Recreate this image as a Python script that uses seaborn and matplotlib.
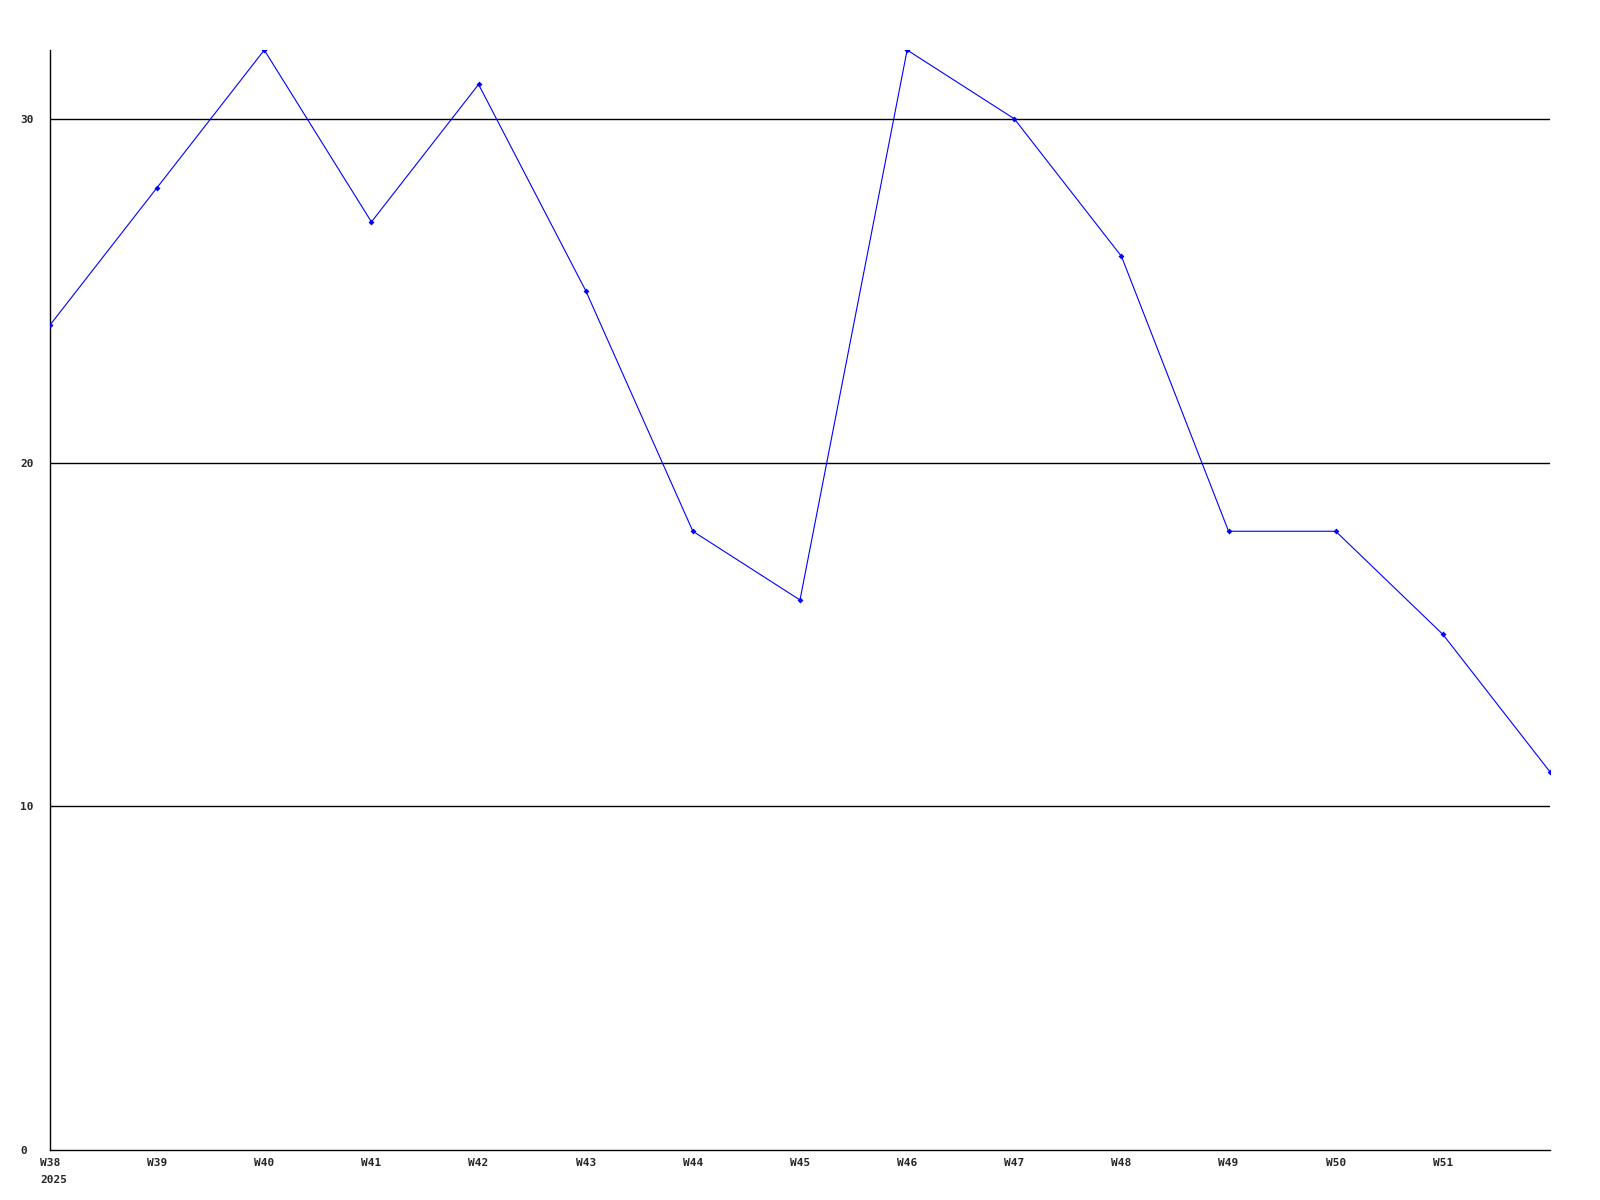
import pandas as pd
import matplotlib.pyplot as plt
import seaborn as sns

weeks = ['W38', 'W39', 'W40', 'W41', 'W42', 'W43', 'W44', 'W45',
         'W46', 'W47', 'W48', 'W49', 'W50', 'W51', 'W52']
values = [24, 28, 32, 27, 31, 25, 18, 16, 32, 30, 26, 18, 18, 15, 11]
tick_labels = ['W38', 'W39', 'W40', 'W41', 'W42', 'W43', 'W44',
               'W45', 'W46', 'W47', 'W48', 'W49', 'W50', 'W51']
year_label = '2025'
y_ticks = [0, 10, 20, 30]


def main():
    df = pd.DataFrame({'idx': range(len(weeks)), 'week': weeks, 'value': values})

    sns.set_style('white')
    fig = plt.figure(figsize=(16, 12), dpi=100)
    ax = fig.add_axes([0.03125, 0.0417, 0.9375, 0.9166])

    for y in y_ticks[1:]:
        ax.axhline(y, color='black', lw=1.0, zorder=1)

    sns.lineplot(data=df, x='idx', y='value', color='blue', lw=0.8,
                 marker='D', markersize=3, markeredgewidth=0, ax=ax, zorder=3)

    font = dict(family='DejaVu Sans Mono', fontweight='bold', fontsize=8)
    ax.set_xlim(0, len(weeks) - 1)
    ax.set_ylim(0, 32)
    ax.set_xticks(range(len(tick_labels)))
    ax.set_xticklabels(tick_labels, **font)
    ax.set_yticks(y_ticks)
    ax.set_yticklabels([str(v) for v in y_ticks], ha='left', **font)
    ax.tick_params(axis='both', length=0)
    ax.tick_params(axis='x', pad=6)
    ax.tick_params(axis='y', pad=21.6)
    ax.set_xlabel('')
    ax.set_ylabel('')

    # year under the first week label, left-aligned with it
    ax.annotate(year_label, xy=(0, 0), xycoords='data', xytext=(-7.2, -18),
                textcoords='offset points', ha='left', va='top',
                annotation_clip=False, **font)

    for side in ['top', 'right']:
        ax.spines[side].set_visible(False)
    for side in ['left', 'bottom']:
        ax.spines[side].set_color('black')
        ax.spines[side].set_linewidth(1.0)

    fig.savefig('out.png', dpi=100, facecolor='white')


if __name__ == '__main__':
    main()
